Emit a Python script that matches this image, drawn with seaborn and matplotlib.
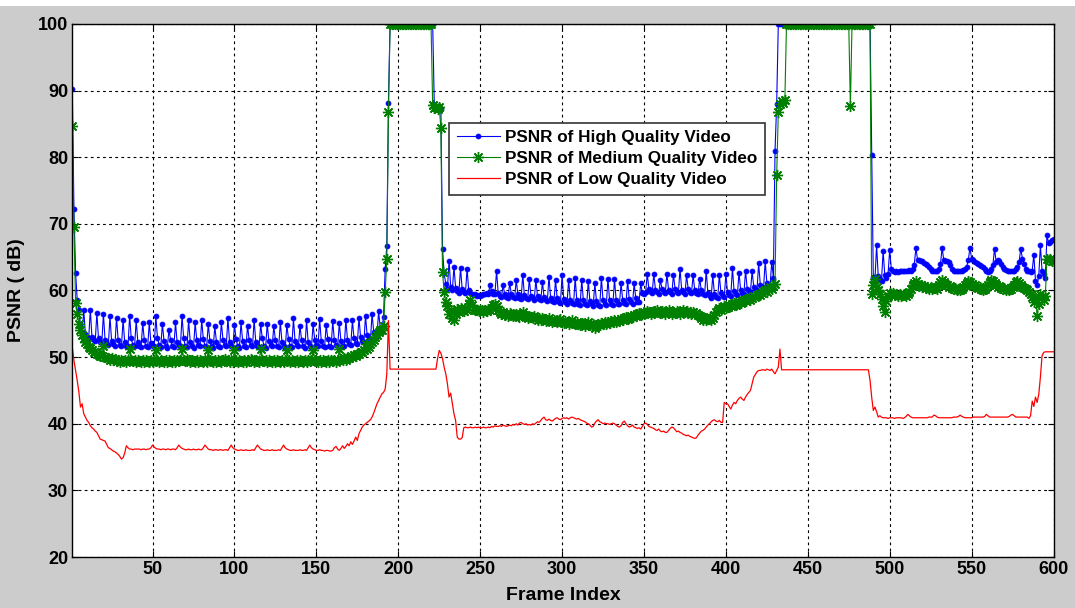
import sys
import numpy as np
import matplotlib
matplotlib.use("Agg")
import matplotlib.pyplot as plt
import seaborn as sns
from matplotlib.patches import Rectangle

# ---------------- data (frames 1..600) ----------------
high_quality = [
    90.3, 72.2, 62.7, 58.6, 57.0, 54.6, 53.8, 57.0, 53.4, 53.0,
    52.8, 57.1, 53.0, 52.6, 52.4, 56.6, 52.8, 52.3, 52.1, 56.5,
    52.6, 52.0, 51.8, 56.1, 52.4, 51.9, 51.7, 55.9, 52.6, 51.8,
    51.6, 55.6, 52.2, 51.7, 51.6, 56.2, 52.8, 51.8, 51.6, 55.5,
    52.3, 51.7, 51.5, 55.1, 52.5, 51.6, 51.5, 55.2, 52.1, 51.7,
    51.6, 56.1, 52.9, 51.8, 51.5, 55.0, 52.4, 51.6, 51.4, 54.1,
    52.6, 51.7, 51.5, 55.2, 52.2, 51.8, 51.6, 56.2, 52.8, 51.6,
    51.5, 55.5, 52.3, 51.7, 51.4, 55.2, 52.5, 51.8, 51.6, 55.5,
    52.7, 51.7, 51.5, 55.0, 52.4, 51.6, 51.4, 54.6, 52.3, 51.7,
    51.5, 55.2, 52.6, 51.8, 51.6, 55.9, 52.2, 51.7, 51.5, 54.8,
    52.7, 51.6, 51.4, 55.2, 52.4, 51.7, 51.5, 54.7, 52.5, 51.8,
    51.6, 55.6, 52.3, 51.6, 51.5, 54.9, 52.8, 51.7, 51.4, 55.0,
    52.4, 51.8, 51.6, 54.6, 52.6, 51.7, 51.5, 55.3, 52.2, 51.6,
    51.4, 54.8, 52.7, 51.7, 51.5, 55.8, 52.4, 51.8, 51.6, 54.7,
    52.5, 51.6, 51.4, 55.5, 52.3, 51.7, 51.5, 54.9, 52.6, 51.8,
    51.6, 55.7, 52.4, 51.7, 51.5, 54.8, 52.7, 51.6, 51.5, 55.4,
    52.5, 51.8, 51.6, 55.1, 52.4, 51.7, 51.6, 55.6, 52.6, 51.9,
    51.8, 55.5, 52.8, 52.1, 52.0, 55.9, 53.0, 52.4, 52.2, 56.2,
    53.3, 52.7, 52.6, 56.5, 53.8, 53.2, 53.1, 56.9, 54.4, 54.2,
    56.0, 63.3, 66.7, 88.2, 100, 100, 100, 100, 100, 100,
    100, 100, 100, 100, 100, 100, 100, 100, 100, 100,
    100, 100, 100, 100, 100, 100, 100, 100, 100, 100,
    100, 87.8, 87.6, 87.7, 87.5, 87.3, 66.2, 62.6, 61.0, 60.2,
    64.5, 60.6, 60.0, 63.6, 60.4, 59.9, 59.6, 63.4, 60.2, 59.8,
    59.6, 63.3, 60.0, 59.6, 59.4, 59.3, 59.4, 59.2, 59.3, 59.2,
    59.3, 59.5, 59.4, 59.6, 59.5, 60.8, 59.9, 59.5, 59.4, 63.0,
    59.6, 59.2, 59.0, 60.8, 59.4, 59.0, 58.9, 61.1, 59.5, 59.0,
    58.8, 61.6, 59.4, 58.9, 58.7, 62.4, 59.3, 58.8, 58.7, 61.7,
    59.2, 58.8, 58.6, 61.6, 59.1, 58.7, 58.5, 61.3, 59.0, 58.5,
    58.4, 62.1, 58.9, 58.4, 58.2, 61.6, 58.8, 58.3, 58.1, 62.3,
    58.7, 58.2, 58.0, 61.6, 58.6, 58.1, 57.9, 61.9, 58.5, 58.0,
    57.8, 61.6, 58.5, 57.9, 57.8, 61.4, 58.4, 57.9, 57.7, 61.1,
    58.4, 57.8, 57.7, 61.9, 58.5, 57.9, 57.8, 61.8, 58.5, 58.0,
    57.8, 61.7, 58.6, 58.0, 57.9, 61.1, 58.6, 58.1, 58.0, 61.5,
    58.7, 58.2, 58.0, 61.1, 58.8, 58.3, 58.2, 61.1, 59.6, 59.4,
    59.7, 62.5, 60.2, 59.8, 59.6, 62.5, 60.1, 59.7, 59.5, 61.6,
    60.2, 59.8, 59.6, 62.5, 60.1, 59.7, 59.5, 62.4, 60.2, 59.8,
    59.6, 63.3, 60.1, 59.7, 59.5, 62.3, 60.2, 59.8, 59.6, 62.3,
    60.0, 59.6, 59.4, 61.8, 60.0, 59.5, 59.3, 63.0, 59.6, 59.1,
    58.9, 62.3, 59.5, 59.0, 58.9, 62.3, 59.6, 59.1, 59.0, 62.5,
    59.7, 59.3, 59.2, 63.4, 59.9, 59.4, 59.3, 62.7, 60.1, 59.6,
    59.5, 63.0, 60.3, 59.9, 59.8, 62.9, 60.6, 60.2, 60.1, 64.1,
    60.9, 60.5, 60.4, 64.4, 61.2, 60.9, 60.8, 64.3, 61.9, 81.0,
    88.0, 100, 100, 100, 100, 100, 100, 100, 100, 100,
    100, 100, 100, 100, 100, 100, 100, 100, 100, 100,
    100, 100, 100, 100, 100, 100, 100, 100, 100, 100,
    100, 100, 100, 100, 100, 100, 100, 100, 100, 100,
    100, 100, 100, 100, 100, 100, 100, 100, 100, 100,
    100, 100, 100, 100, 100, 100, 100, 100, 80.4, 62.0,
    61.6, 66.8, 62.2, 61.8, 61.5, 66.0, 62.3, 61.9, 62.5, 66.1,
    63.2, 62.9, 62.8, 62.9, 62.8, 62.9, 62.9, 63.0, 62.9, 63.0,
    62.9, 63.1, 63.0, 63.3, 63.9, 66.4, 64.6, 64.6, 64.4, 64.5,
    64.2, 64.0, 63.8, 63.6, 63.2, 63.0, 62.9, 63.0, 63.0, 63.2,
    64.0, 66.4, 64.6, 64.5, 64.5, 64.3, 63.8, 63.2, 63.0, 62.9,
    62.9, 63.0, 62.9, 63.0, 63.1, 63.3, 63.6, 64.6, 66.4, 64.8,
    64.6, 64.3, 64.1, 64.0, 63.9, 63.7, 63.5, 63.2, 63.0, 62.8,
    62.9, 63.2, 63.8, 66.3, 64.3, 64.6, 64.4, 64.0, 63.6, 63.3,
    63.1, 62.9, 62.9, 63.0, 63.0, 62.9, 63.2, 63.6, 64.3, 66.3,
    64.8, 64.0, 63.3, 63.0, 62.9, 62.8, 63.0, 65.4, 61.5, 60.8,
    62.2, 66.8, 63.0, 62.5, 61.9, 68.3, 67.1, 67.3, 67.6, 67.8,
]

medium_quality = [
    84.7, 69.5, 58.1, 56.5, 55.0, 54.0, 53.3, 52.8, 52.3, 51.9,
    51.5, 51.3, 51.0, 50.8, 50.7, 50.5, 50.3, 50.2, 50.1, 51.6,
    50.0, 49.8, 49.9, 49.6, 49.8, 49.5, 49.7, 49.4, 49.6, 49.3,
    49.5, 49.4, 49.6, 49.3, 49.5, 51.2, 49.6, 49.4, 49.5, 49.3,
    49.6, 49.4, 49.2, 49.5, 49.3, 49.6, 49.4, 49.2, 49.5, 49.3,
    49.6, 51.1, 49.5, 49.3, 49.6, 49.4, 49.2, 49.5, 49.3, 49.6,
    49.4, 49.2, 49.5, 49.3, 49.6, 49.4, 49.5, 51.2, 49.6, 49.4,
    49.7, 49.5, 49.3, 49.6, 49.4, 49.2, 49.5, 49.3, 49.6, 49.4,
    49.2, 49.5, 49.3, 51.0, 49.6, 49.4, 49.2, 49.5, 49.3, 49.6,
    49.4, 49.2, 49.5, 49.7, 49.4, 49.6, 49.3, 49.5, 49.2, 51.1,
    49.5, 49.3, 49.6, 49.4, 49.2, 49.5, 49.3, 49.6, 49.4, 49.7,
    49.5, 49.3, 49.6, 49.4, 49.2, 51.2, 49.6, 49.4, 49.5, 49.3,
    49.6, 49.4, 49.2, 49.5, 49.3, 49.6, 49.4, 49.2, 49.5, 49.3,
    49.6, 51.0, 49.5, 49.3, 49.6, 49.4, 49.2, 49.5, 49.3, 49.6,
    49.4, 49.2, 49.5, 49.3, 49.6, 49.4, 49.5, 51.1, 49.6, 49.4,
    49.2, 49.5, 49.3, 49.6, 49.4, 49.2, 49.5, 49.3, 49.6, 49.4,
    49.5, 49.3, 49.6, 51.2, 49.7, 49.5, 49.8, 49.6, 49.9, 49.8,
    50.1, 50.0, 50.3, 50.2, 50.5, 50.4, 50.7, 50.8, 51.0, 52.0,
    51.2, 51.5, 51.9, 52.2, 52.6, 53.0, 53.3, 53.7, 54.1, 54.0,
    54.6, 59.7, 64.7, 86.8, 100, 100, 100, 100, 100, 100,
    100, 100, 100, 100, 100, 100, 100, 100, 100, 100,
    100, 100, 100, 100, 100, 100, 100, 100, 100, 100,
    87.8, 87.4, 87.6, 87.3, 87.5, 84.4, 62.8, 59.8, 58.2, 57.6,
    56.4, 57.0, 55.9, 55.6, 56.5, 57.2, 56.8, 57.4, 57.0, 56.9,
    57.3, 57.1, 58.0, 58.6, 57.8, 57.2, 57.0, 57.1, 56.9, 57.0,
    57.0, 56.8, 57.1, 56.9, 57.2, 57.0, 57.4, 57.8, 58.0, 57.6,
    57.1, 56.8, 56.5, 56.7, 56.3, 56.5, 56.2, 56.6, 56.4, 56.1,
    56.3, 56.5, 56.2, 56.0, 56.4, 56.8, 56.3, 56.1, 55.9, 56.2,
    56.0, 55.8, 56.1, 55.9, 55.6, 55.8, 55.5, 55.9, 55.7, 55.4,
    55.6, 55.8, 55.5, 55.3, 55.6, 55.4, 55.2, 55.5, 55.7, 55.3,
    55.1, 55.4, 55.2, 55.0, 55.3, 55.5, 55.1, 54.9, 55.2, 55.0,
    54.8, 55.1, 54.9, 54.7, 55.0, 55.3, 54.8, 54.6, 54.9, 54.4,
    54.7, 55.0, 54.8, 55.1, 54.9, 55.2, 55.0, 55.3, 55.1, 55.4,
    55.2, 55.5, 55.3, 55.6, 55.4, 55.7, 55.5, 55.8, 56.0, 55.7,
    55.9, 56.2, 56.0, 56.3, 56.1, 56.4, 56.6, 56.3, 56.5, 56.8,
    56.6, 56.9, 56.7, 56.5, 56.8, 56.6, 56.9, 57.1, 56.8, 56.6,
    56.9, 56.7, 56.5, 56.8, 57.0, 56.7, 56.5, 56.8, 56.6, 56.9,
    56.7, 56.5, 56.8, 57.0, 56.7, 56.9, 56.6, 56.8, 56.5, 56.7,
    56.4, 56.6, 56.3, 56.1, 55.8, 55.6, 55.9, 55.5, 55.7, 56.0,
    55.6, 55.9, 56.3, 56.8, 57.0, 57.3, 57.1, 57.4, 57.6, 57.3,
    57.5, 57.8, 57.6, 57.9, 58.1, 57.8, 58.0, 58.3, 58.1, 58.4,
    58.6, 58.4, 58.7, 58.9, 58.6, 58.9, 59.2, 59.0, 59.3, 59.5,
    59.3, 59.6, 59.9, 60.1, 59.8, 60.2, 60.5, 60.3, 60.7, 61.0,
    77.3, 86.8, 88.0, 88.5, 88.2, 88.6, 100, 100, 100, 100,
    100, 100, 100, 100, 100, 100, 100, 100, 100, 100,
    100, 100, 100, 100, 100, 100, 100, 100, 100, 100,
    100, 100, 100, 100, 100, 100, 100, 100, 100, 100,
    100, 100, 100, 100, 100, 87.7, 100, 100, 100, 100,
    100, 100, 100, 100, 100, 100, 100, 100, 59.5, 60.8,
    61.7, 60.6, 60.0, 59.5, 58.7, 57.6, 56.7, 58.4, 59.2, 59.6,
    59.4, 59.6, 59.3, 59.5, 59.2, 59.4, 59.1, 59.3, 59.5, 59.2,
    59.4, 59.7, 60.2, 60.8, 61.2, 61.4, 61.0, 60.7, 60.9, 60.5,
    60.7, 60.4, 60.6, 60.3, 60.5, 60.2, 60.4, 60.6, 60.3, 60.8,
    61.3, 61.6, 61.3, 61.0, 60.8, 60.5, 60.7, 60.4, 60.2, 60.4,
    60.1, 60.3, 60.0, 60.2, 60.5, 60.8, 61.2, 61.5, 61.3, 61.0,
    60.7, 60.9, 60.6, 60.4, 60.6, 60.3, 60.1, 60.3, 60.5, 60.9,
    61.3, 61.6, 61.4, 61.1, 60.8, 60.5, 60.7, 60.4, 60.2, 60.4,
    60.1, 60.3, 60.0, 60.2, 60.5, 60.9, 61.3, 61.5, 61.2, 60.9,
    60.6, 60.4, 60.2, 60.0, 59.8, 59.4, 59.0, 58.2, 59.0, 56.2,
    58.0, 59.5, 59.0, 58.6, 59.2, 64.8, 64.6, 64.7, 64.4, 64.5,
]

low_quality = [
    51.5, 49.5, 48.0, 46.5, 44.8, 42.5, 43.0, 41.5, 41.0, 40.5,
    40.2, 39.7, 39.4, 39.2, 38.9, 38.7, 38.2, 37.7, 37.6, 37.5,
    37.4, 36.9, 36.4, 36.3, 36.1, 35.9, 35.8, 35.6, 35.4, 35.1,
    34.7, 34.9, 35.6, 36.7, 36.4, 36.2, 36.2, 36.1, 36.2, 36.2,
    36.2, 36.2, 36.1, 36.2, 36.2, 36.1, 36.2, 36.2, 36.4, 36.8,
    36.5, 36.3, 36.2, 36.2, 36.1, 36.2, 36.2, 36.1, 36.2, 36.2,
    36.1, 36.2, 36.2, 36.1, 36.4, 36.8, 36.5, 36.3, 36.2, 36.1,
    36.1, 36.2, 36.1, 36.1, 36.2, 36.1, 36.1, 36.2, 36.1, 36.1,
    36.4, 36.8, 36.5, 36.2, 36.1, 36.1, 36.0, 36.1, 36.1, 36.0,
    36.1, 36.1, 36.0, 36.1, 36.1, 36.0, 36.4, 36.8, 36.4, 36.2,
    36.1, 36.0, 36.0, 36.1, 36.0, 36.0, 36.1, 36.0, 36.0, 36.0,
    36.1, 36.0, 36.4, 36.8, 36.5, 36.2, 36.1, 36.0, 36.0, 36.1,
    36.0, 36.0, 36.1, 36.0, 36.0, 36.0, 36.1, 36.0, 36.4, 36.8,
    36.4, 36.2, 36.1, 36.0, 36.0, 36.1, 36.0, 36.0, 36.0, 36.1,
    36.0, 36.0, 36.1, 36.0, 36.4, 36.8, 36.4, 36.2, 36.1, 36.0,
    36.0, 36.1, 36.0, 36.0, 35.9, 36.0, 36.0, 35.9, 35.9, 36.0,
    36.4, 36.6, 36.2, 36.0, 36.3, 36.7, 36.3, 36.6, 37.0, 36.7,
    37.3, 36.9, 37.4, 38.0, 37.5, 38.5, 39.0, 39.5, 39.8, 40.0,
    40.2, 40.4, 40.6, 41.0, 41.6, 42.3, 43.0, 43.5, 44.0, 44.5,
    44.7, 45.2, 47.5, 55.5, 48.2, 48.2, 48.2, 48.2, 48.2, 48.2,
    48.2, 48.2, 48.2, 48.2, 48.2, 48.2, 48.2, 48.2, 48.2, 48.2,
    48.2, 48.2, 48.2, 48.2, 48.2, 48.2, 48.2, 48.2, 48.2, 48.2,
    48.2, 48.2, 48.2, 49.8, 51.0, 50.6, 49.8, 48.5, 47.5, 46.0,
    44.0, 44.6, 43.0, 41.5, 40.5, 38.0, 37.7, 37.7, 37.9, 39.4,
    39.5, 39.4, 39.4, 39.5, 39.4, 39.4, 39.5, 39.4, 39.5, 39.4,
    39.4, 39.5, 39.4, 39.4, 39.5, 39.4, 39.6, 39.5, 39.7, 39.6,
    39.6, 39.7, 39.6, 39.8, 39.7, 39.6, 39.7, 39.8, 39.7, 39.9,
    39.8, 40.0, 39.8, 40.1, 40.2, 40.0, 39.9, 40.0, 39.8, 39.9,
    39.8, 40.0, 39.9, 40.1, 40.3, 40.2, 40.5, 40.8, 41.0, 40.6,
    40.5, 40.7, 40.5, 40.4, 40.6, 40.8, 40.9, 40.7, 40.6, 40.8,
    40.9, 40.8, 40.9, 40.7, 40.9, 41.0, 40.9, 40.8, 40.7, 40.8,
    40.6, 40.5, 40.4, 40.3, 40.1, 40.0, 39.8, 39.5, 39.6, 40.1,
    40.4, 40.6, 40.3, 40.2, 40.0, 40.1, 40.0, 40.0, 39.9, 40.0,
    40.1, 40.0, 39.8, 39.6, 39.5, 39.7, 40.2, 40.4, 40.0, 39.7,
    39.5, 39.6, 39.8, 39.5, 39.4, 39.3, 39.4, 39.2, 39.6, 40.0,
    40.1, 39.9, 39.6, 39.5, 39.4, 39.3, 39.1, 39.0, 39.2, 38.9,
    38.8, 38.9, 38.7, 38.7, 39.0, 39.3, 39.5, 39.4, 39.1, 38.8,
    38.9, 38.7, 38.6, 38.4, 38.3, 38.2, 38.3, 38.1, 38.0, 37.9,
    37.8, 37.9, 38.3, 38.6, 38.9, 39.0, 39.2, 39.5, 39.8, 40.0,
    40.3, 40.5, 40.6, 40.4, 40.3, 40.5, 40.2, 40.2, 43.2, 43.0,
    43.0, 42.6, 42.2, 42.8, 43.2, 43.0, 43.5, 43.8, 44.0, 43.7,
    43.5, 44.0, 44.4, 44.7, 45.0, 46.0, 47.0, 47.4, 47.8, 48.0,
    48.0, 48.1, 48.1, 48.0, 48.2, 48.1, 48.0, 48.2, 47.8, 47.5,
    48.0, 48.5, 51.2, 48.1, 48.1, 48.1, 48.1, 48.1, 48.1, 48.1,
    48.1, 48.1, 48.1, 48.1, 48.1, 48.1, 48.1, 48.1, 48.1, 48.1,
    48.1, 48.1, 48.1, 48.1, 48.1, 48.1, 48.1, 48.1, 48.1, 48.1,
    48.1, 48.1, 48.1, 48.1, 48.1, 48.1, 48.1, 48.1, 48.1, 48.1,
    48.1, 48.1, 48.1, 48.1, 48.1, 48.1, 48.1, 48.1, 48.1, 48.1,
    48.1, 48.1, 48.1, 48.1, 48.1, 48.1, 48.1, 46.5, 44.0, 42.0,
    42.5, 41.8, 41.0, 41.2, 41.0, 40.9, 40.9, 40.9, 40.8, 40.9,
    40.9, 40.9, 40.8, 40.9, 40.9, 40.9, 40.9, 40.8, 40.9, 41.1,
    41.4, 41.2, 41.0, 40.9, 40.9, 40.9, 40.9, 40.9, 40.9, 40.9,
    40.9, 40.9, 40.9, 41.0, 41.0, 41.0, 41.3, 41.2, 41.0, 40.9,
    40.9, 40.9, 40.9, 40.9, 40.9, 40.9, 40.9, 40.9, 41.0, 41.0,
    41.0, 41.1, 41.3, 41.1, 41.0, 40.9, 40.9, 40.9, 40.9, 40.9,
    41.0, 41.0, 41.0, 41.0, 41.0, 41.0, 41.0, 41.1, 41.4, 41.2,
    41.0, 41.0, 41.0, 41.0, 41.0, 41.0, 41.0, 41.0, 41.0, 41.0,
    41.0, 41.0, 41.1, 41.3, 41.4, 41.2, 41.0, 41.0, 41.0, 41.0,
    41.0, 41.0, 41.0, 41.0, 40.8, 41.2, 43.4, 42.6, 44.0, 43.2,
    44.4, 47.0, 50.2, 50.7, 50.8, 50.8, 50.8, 50.8, 50.8, 50.8,
]

series_labels = ["PSNR of High Quality Video",
                 "PSNR of Medium Quality Video",
                 "PSNR of Low Quality Video"]
x_ticks = [50, 100, 150, 200, 250, 300, 350, 400, 450, 500, 550, 600]
y_ticks = [20, 30, 40, 50, 60, 70, 80, 90, 100]
x_label = "Frame Index"
y_label = "PSNR ( dB)"

print(len(high_quality), len(medium_quality), len(low_quality), file=sys.stderr)

# ---------------- figure ----------------
plt.rcParams['font.family'] = ['Liberation Sans', 'DejaVu Sans']
plt.rcParams['font.weight'] = 'bold'

W, H = 1075, 608
fig = plt.figure(figsize=(W / 100, H / 100), dpi=100, facecolor="#cccccc")
fig.patches.append(Rectangle((0, 1 - 6 / H), 1, 6 / H, transform=fig.transFigure,
                             facecolor="white", edgecolor="none", zorder=0))
ax_l, ax_r, ax_t, ax_b = 72.3, 1053.5, 24.0, 557.0
ax = fig.add_axes([ax_l / W, 1 - ax_b / H, (ax_r - ax_l) / W, (ax_b - ax_t) / H])
ax.set_facecolor("white")

frames_h = np.arange(1, len(high_quality) + 1)
frames_m = np.arange(1, len(medium_quality) + 1)
frames_l = np.arange(1, len(low_quality) + 1)

blue = (0, 0, 1)
green = (0, 0.5, 0)
red = (1, 0, 0)

sns.lineplot(x=frames_h, y=high_quality, ax=ax, color=blue, lw=0.8,
             marker='.', markersize=7, markeredgecolor=blue, markeredgewidth=0.6,
             estimator=None, sort=False, label=series_labels[0])
sns.lineplot(x=frames_m, y=medium_quality, ax=ax, color=green, lw=0.8,
             marker=(8, 2, 0), markersize=8, markeredgecolor=green, markeredgewidth=1.0,
             estimator=None, sort=False, label=series_labels[1])
sns.lineplot(x=frames_l, y=low_quality, ax=ax, color=red, lw=0.9,
             estimator=None, sort=False, label=series_labels[2])

ax.set_xlim(1, 600)
ax.set_ylim(20, 100)
ax.set_xticks(x_ticks)
ax.set_yticks(y_ticks)
ax.grid(True, color='black', linestyle=(0, (2.5, 3)), linewidth=0.8)
ax.set_axisbelow(True)
ax.tick_params(direction='in', length=4, width=0.8, top=True, right=True,
               labelsize=13, pad=3, colors='black')
for lab in ax.get_xticklabels() + ax.get_yticklabels():
    lab.set_fontweight('bold')
for sp in ax.spines.values():
    sp.set_color('black')
    sp.set_linewidth(1.0)

ax.set_xlabel(x_label, fontsize=14, fontweight='bold', labelpad=6)
ax.set_ylabel(y_label, fontsize=14, fontweight='bold', labelpad=9)

leg = ax.legend(loc='upper left', bbox_to_anchor=(449.3 / W, 1 - 122.7 / H),
                bbox_transform=fig.transFigure, borderaxespad=0,
                prop={'weight': 'bold', 'size': 12.3},
                frameon=True, fancybox=False, framealpha=1, shadow=False,
                handlelength=2.5, handletextpad=0.3, labelspacing=0.35, borderpad=0.45)
leg.get_frame().set_edgecolor('#333333')
leg.get_frame().set_linewidth(1.2)

fig.savefig("out.png", dpi=100, facecolor=fig.get_facecolor())
